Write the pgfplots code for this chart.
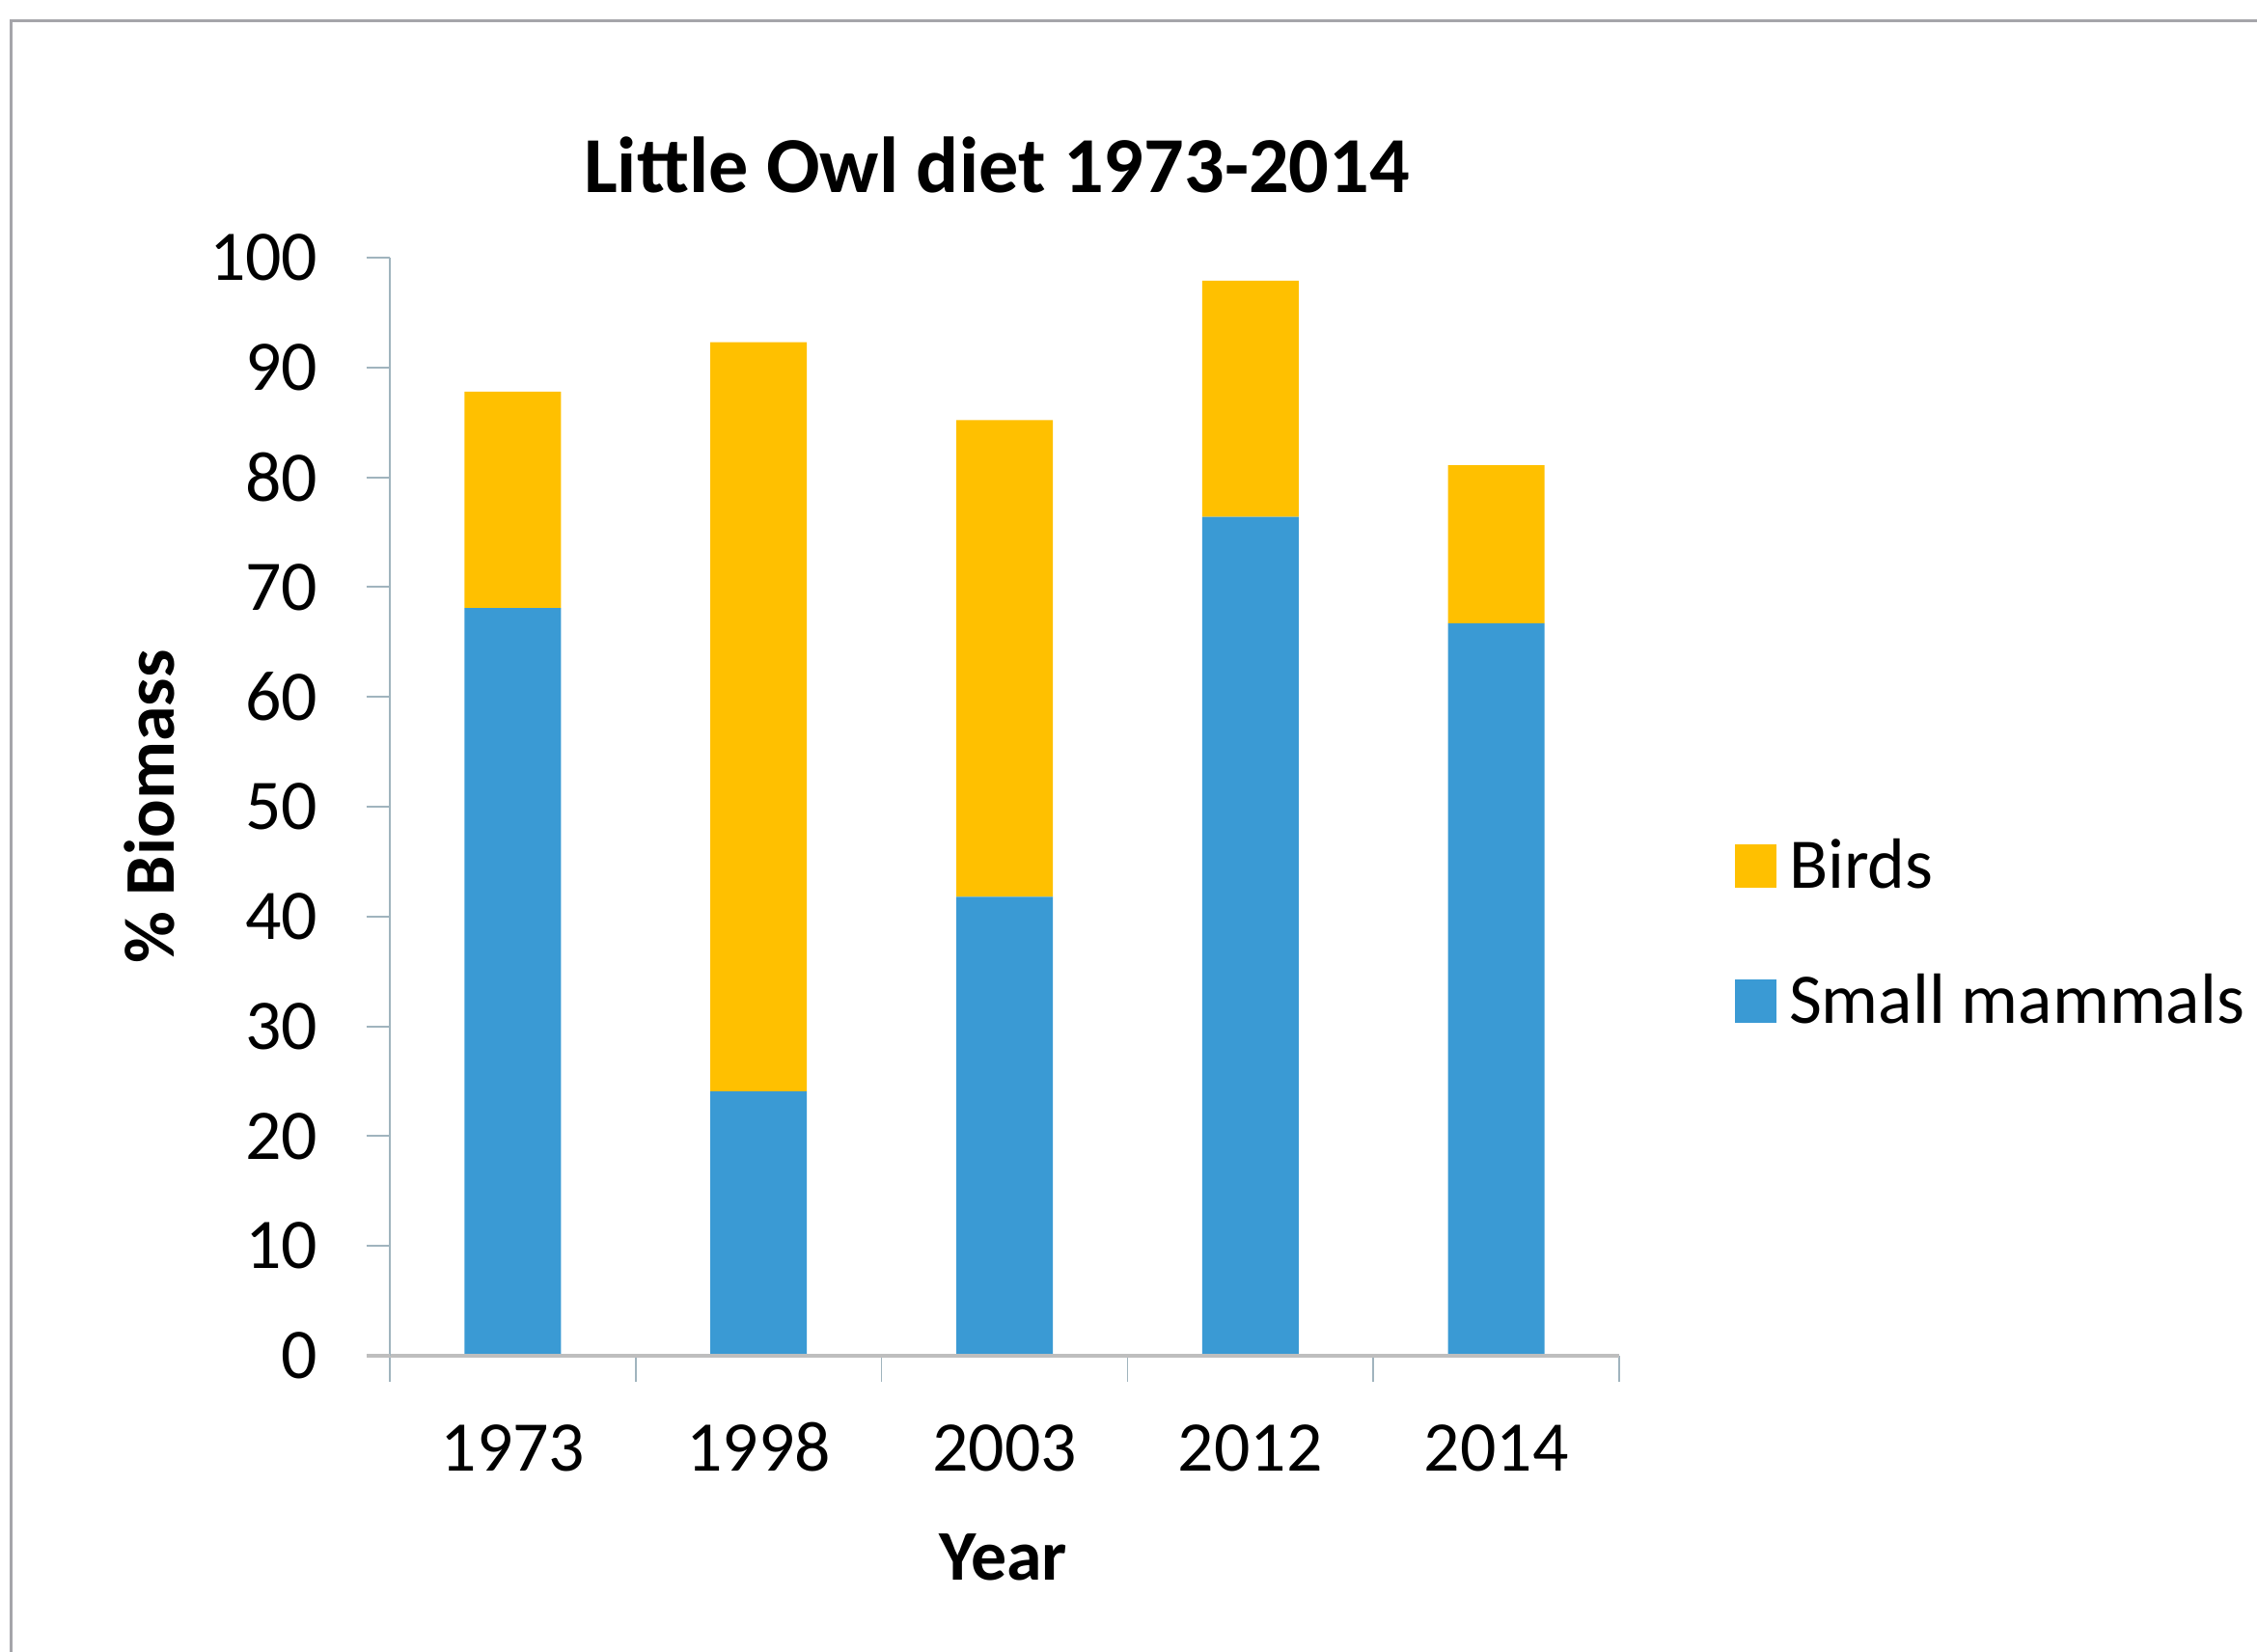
\documentclass[border=0pt]{standalone}
\usepackage{fontspec}
\setmainfont{Carlito}
\usepackage{pgfplots}
\pgfplotsset{compat=1.18}

\definecolor{birds}{RGB}{255,192,0}
\definecolor{mammals}{RGB}{58,154,212}
\definecolor{xaxis}{RGB}{190,190,190}
\definecolor{yaxis}{RGB}{160,180,190}
\definecolor{frame}{RGB}{165,165,170}

\newcommand{\chartfont}{\fontsize{21}{25}\selectfont}
\newcommand{\titlefont}{\fontsize{23.4}{28}\selectfont}

\begin{document}
\begin{tikzpicture}
\useasboundingbox (-40.4mm,-30.6mm) rectangle (193.5mm,140.5mm);
\fill[white] (-40.4mm,-30.6mm) rectangle (193.5mm,140.5mm);
% outer chart frame
\draw[frame, line width=0.3mm] (-39.2mm,-31mm) -- (-39.2mm,138.3mm) -- (194mm,138.3mm);

\begin{axis}[
  x=25.48mm, y=1.138mm,
  xmin=-0.5, xmax=4.5, ymin=0, ymax=100,
  ybar stacked, bar width=10mm,
  axis lines*=left,
  axis on top,
  x axis line style={draw=xaxis, line width=0.45mm},
  y axis line style={draw=yaxis, line width=0.2mm},
  xtick={0,1,2,3,4},
  xticklabels={1973,1998,2003,2012,2014},
  x tick style={draw=none},
  minor xtick={-0.5,0.5,1.5,2.5,3.5,4.5},
  minor x tick style={draw=yaxis, line width=0.15mm},
  minor tick length=2.7mm,
  ytick={0,10,...,100},
  y tick style={draw=yaxis, line width=0.2mm},
  major tick length=2.4mm,
  tick align=outside,
  extra y ticks={0},
  extra y tick labels={},
  extra y tick style={y tick style={draw=xaxis, line width=0.45mm}},
  /pgf/number format/assume math mode=true,
  ticklabel style={font=\chartfont},
  yticklabel style={anchor=east, inner sep=0pt, xshift=-5mm},
  xticklabel style={anchor=base, inner sep=0pt, yshift=-9.5mm},
  title={Little Owl diet 1973-2014},
  every axis title/.style={font=\titlefont\bfseries, at={(axis description cs:0.4937,1.0589)}, anchor=base, inner sep=0pt},
  xlabel={Year},
  xlabel style={font=\chartfont\bfseries, at={(axis description cs:0.4992,-0.2039)}, anchor=base, inner sep=0pt},
  ylabel={\% Biomass},
  ylabel style={font=\chartfont\bfseries, at={(axis description cs:-0.1758,0.5)}, anchor=base, inner sep=0pt},
  legend style={at={(axis description cs:1.0942,0.4657)}, anchor=north west,
    draw=none, fill=none, inner sep=0pt, outer sep=0pt,
    row sep=9.5mm, column sep=1.3mm, font=\chartfont,
    nodes={inner sep=0pt, text height=4.5mm, text depth=0pt}},
  legend cell align=left,
  reverse legend,
  legend image code/.code={\fill[#1] (0mm,-2.25mm) rectangle (4.3mm,2.25mm);},
]
% small mammals (bottom segment)
\addplot[fill=mammals, draw=none] coordinates {(0,68.1) (1,24.1) (2,41.8) (3,76.4) (4,66.7)};
\addlegendentry{Small mammals}
% birds (stacked on top)
\addplot[fill=birds, draw=none] coordinates {(0,19.7) (1,68.2) (2,43.4) (3,21.5) (4,14.4)};
\addlegendentry{Birds}
\end{axis}
\end{tikzpicture}
\end{document}
